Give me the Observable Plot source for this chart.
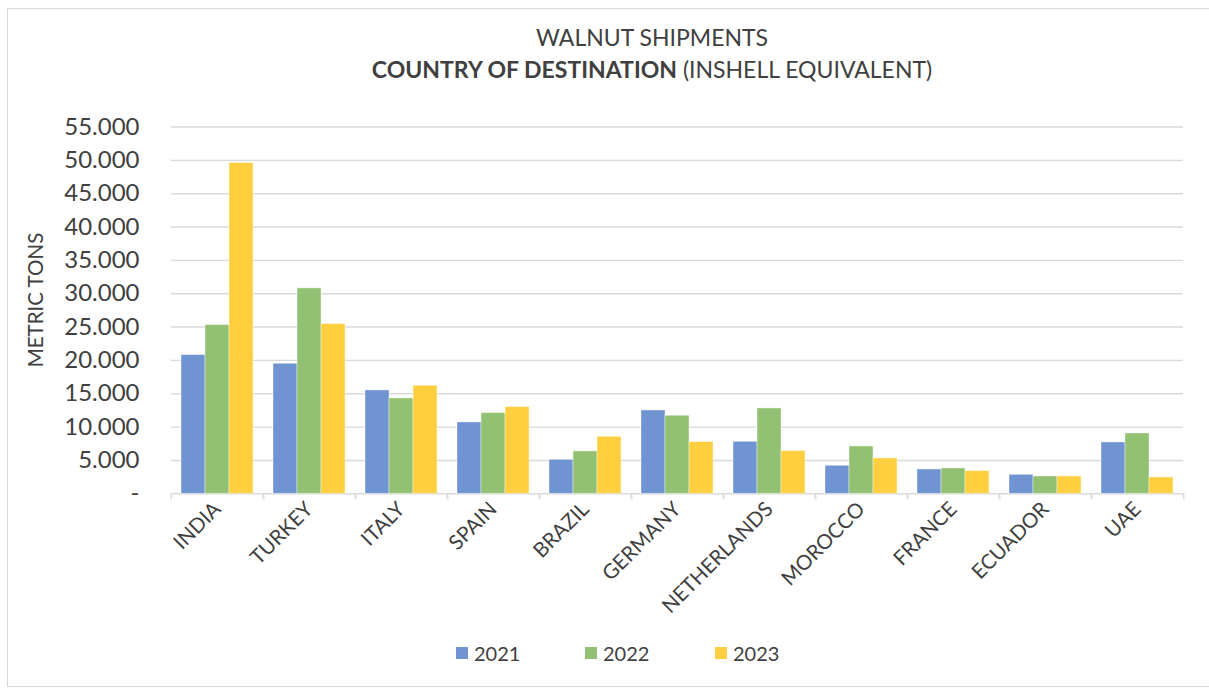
<!DOCTYPE html>
<html><head><meta charset="utf-8">
<script src="https://cdn.jsdelivr.net/npm/d3@7"></script>
<script src="https://cdn.jsdelivr.net/npm/@observablehq/plot@0.6"></script>
<style>
body{margin:0;background:#fff;font-family:Lato,sans-serif;color:#404040;}
#wrap{position:relative;width:1209px;height:688px;overflow:hidden;background:#fff;}
#frame{position:absolute;left:7px;top:8px;width:1220px;height:679px;border:1px solid #d9d9d9;box-sizing:border-box;}
#chart{position:absolute;left:0;top:0;}
.t{position:absolute;left:652px;transform:translateX(-50%);white-space:nowrap;font-size:23px;line-height:1;}
#ylabel{position:absolute;left:35px;top:300px;transform:translate(-50%,-50%) rotate(-90deg);font-size:20.5px;white-space:nowrap;line-height:1;}
.lg{position:absolute;top:643px;font-size:20px;line-height:20px;display:flex;align-items:center;}
.sw{width:12px;height:12px;margin-right:6px;}
</style></head><body>
<div id="wrap">
 <div id="frame"></div>
 <div id="chart"></div>
 <div class="t" style="top:26px;">WALNUT SHIPMENTS</div>
 <div class="t" style="top:58px;"><b>COUNTRY OF DESTINATION</b> (INSHELL EQUIVALENT)</div>
 <div id="ylabel">METRIC TONS</div>
 <div id="legend"></div>
</div>
<script>
const countries = ["INDIA","TURKEY","ITALY","SPAIN","BRAZIL","GERMANY","NETHERLANDS","MOROCCO","FRANCE","ECUADOR","UAE"];
const years = ["2021","2022","2023"];
const values2021 = [20800, 19500, 15500, 10700, 5100, 12500, 7800, 4200, 3650, 2850, 7700];
const values2022 = [25300, 30800, 14300, 12100, 6350, 11700, 12800, 7100, 3800, 2600, 9050];
const values2023 = [49600, 25450, 16200, 13000, 8550, 7750, 6400, 5300, 3400, 2600, 2450];
const yTicks = [0, 5000, 10000, 15000, 20000, 25000, 30000, 35000, 40000, 45000, 50000, 55000];
const colors = ["#7094d1", "#93c174", "#ffcf40"];

const series = [values2021, values2022, values2023];
const data = [];
countries.forEach((c, i) => years.forEach((y, j) => data.push({country: c, year: y, value: series[j][i]})));

const W = 1209, H = 640, mL = 168, mR = 24, mT = 126.5, mB = 146.7;
const step = (W - mL - mR) / countries.length;
const fmt = d => d === 0 ? "-" : d3.format(",")(d).replace(/,/g, ".");

const chart = Plot.plot({
  width: W, height: H,
  marginLeft: mL, marginRight: mR, marginTop: mT, marginBottom: mB,
  style: {fontFamily: "Lato, sans-serif", color: "#404040", background: "transparent", overflow: "visible"},
  fx: {domain: countries, padding: 0, label: null},
  x: {domain: years, paddingInner: 0, paddingOuter: 0.364, axis: null},
  y: {domain: [0, 55000], label: null},
  color: {domain: years, range: colors},
  marks: [
    Plot.gridY(yTicks, {stroke: "#d9d9d9", strokeOpacity: 1, strokeWidth: 1.4}),
    Plot.barY(data, {fx: "country", x: "year", y: "value", fill: "year", stroke: "#ffffff", strokeOpacity: 0.5, strokeWidth: 0.8}),
    Plot.axisY(yTicks, {tickSize: 0, tickPadding: 32, fontSize: 24, tickFormat: fmt, label: null}),
    Plot.axisFx({anchor: "bottom", tickSize: 0, tickRotate: -45, fontSize: 20.5, tickPadding: 12, label: null}),
    Plot.axisFx({anchor: "bottom", text: null, tickSize: 6, dx: -step / 2, stroke: "#d9d9d9", strokeWidth: 1.4, label: null}),
    Plot.axisFx({anchor: "bottom", text: null, tickSize: 6, dx: step / 2, stroke: "#d9d9d9", strokeWidth: 1.4, label: null})
  ]
});
document.getElementById("chart").appendChild(chart);

const legend = document.getElementById("legend");
const lgX = [456, 585, 715];
years.forEach((y, j) => {
  const d = document.createElement("div");
  d.className = "lg";
  d.style.left = lgX[j] + "px";
  d.innerHTML = `<span class="sw" style="background:${colors[j]}"></span><span>${y}</span>`;
  legend.appendChild(d);
});
</script>
</body></html>
